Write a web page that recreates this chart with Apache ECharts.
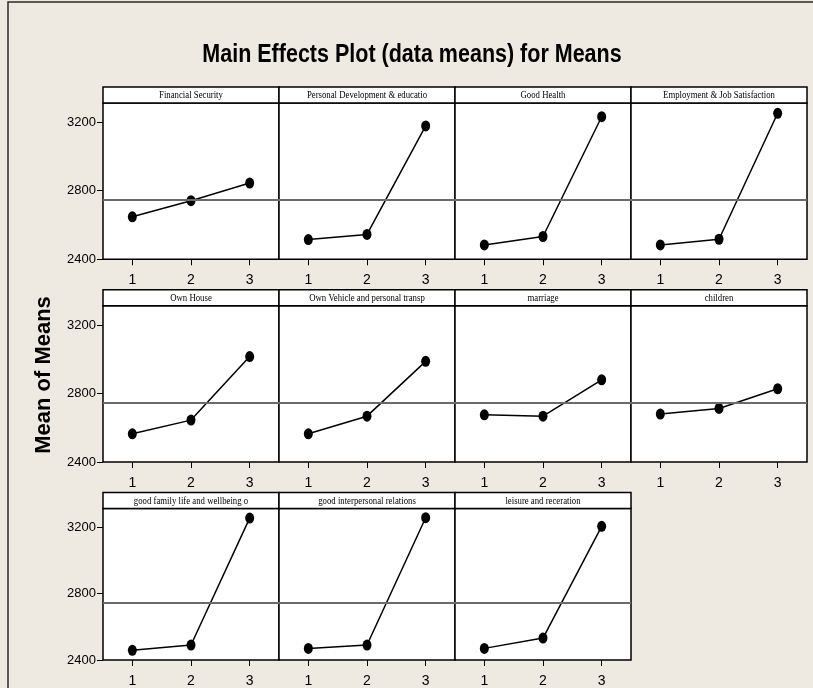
<!DOCTYPE html>
<html>
<head>
<meta charset="utf-8">
<script src="https://cdn.jsdelivr.net/npm/echarts@6/dist/echarts.min.js"></script>
<style>
  html, body { margin: 0; padding: 0; background: #EEEAE1; }
  #chart { width: 813px; height: 688px; }
</style>
</head>
<body>
<div id="chart"></div>
<script>
// ---- data ----
const levels = ['1', '2', '3'];
const yTicks = [2400, 2800, 3200];
const grandMean = 2745;

const factorNames = [
  'Financial Security', 'Personal Development & educatio', 'Good Health', 'Employment & Job Satisfaction',
  'Own House', 'Own Vehicle and personal transp', 'marriage', 'children',
  'good family life and wellbeing o', 'good interpersonal relations', 'leisure and receration'
];

const financialSecurity = [2648, 2742, 2845];
const personalDevelopment = [2515, 2545, 3178];
const goodHealth = [2484, 2533, 3232];
const employmentJob = [2484, 2517, 3252];
const ownHouse = [2565, 2645, 3016];
const ownVehicle = [2565, 2668, 2988];
const marriage = [2676, 2668, 2880];
const children = [2680, 2713, 2828];
const goodFamily = [2458, 2490, 3255];
const goodInterpersonal = [2470, 2490, 3257];
const leisure = [2470, 2532, 3205];

const factorMeans = [financialSecurity, personalDevelopment, goodHealth, employmentJob,
  ownHouse, ownVehicle, marriage, children, goodFamily, goodInterpersonal, leisure];

// ---- layout ----
const PLOT_LEFT = 103, COL_W = 176, TOP0 = 103, ROW_PITCH = 202.8, PLOT_H = 156.3, HEADER_H = 16;
const Y_MIN = 2400, Y_MAX = 3312;
const tickFont = '"Liberation Sans", Arial, sans-serif';

const grids = [], xAxes = [], yAxes = [], series = [], graphics = [];

// outer frame
graphics.push({ type: 'rect', shape: { x: 8, y: 2, width: 900, height: 800 },
  style: { fill: 'none', stroke: '#2a2a2a', lineWidth: 1.5 }, z: 0 });

factorMeans.forEach((vals, i) => {
  const r = Math.floor(i / 4), c = i % 4;
  const left = PLOT_LEFT + c * COL_W;
  const top = TOP0 + r * ROW_PITCH;
  grids.push({ left: left, top: top, width: COL_W, height: PLOT_H, show: true,
    backgroundColor: '#ffffff', borderColor: '#000', borderWidth: 1.5, containLabel: false });
  xAxes.push({ gridIndex: i, type: 'category', data: levels, boundaryGap: true,
    axisLine: { show: false },
    axisTick: { show: true, alignWithLabel: true, length: 6, lineStyle: { color: '#000', width: 1 } },
    axisLabel: { show: true, margin: 14, color: '#000', fontSize: 14, fontFamily: tickFont },
    splitLine: { show: false } });
  const showY = c === 0;
  yAxes.push({ gridIndex: i, type: 'value', min: Y_MIN, max: Y_MAX,
    axisLine: { show: false },
    axisTick: { show: showY, length: 6, customValues: yTicks, lineStyle: { color: '#000', width: 1 } },
    axisLabel: { show: showY, customValues: yTicks, margin: 7, color: '#000', fontSize: 13,
      fontFamily: tickFont, formatter: function (v) { return String(v); } },
    splitLine: { show: false } });
  series.push({ type: 'line', xAxisIndex: i, yAxisIndex: i, data: vals,
    symbol: 'circle', symbolSize: [9, 11], showSymbol: true,
    lineStyle: { color: '#000', width: 1.5 }, itemStyle: { color: '#000' },
    markLine: { silent: true, symbol: 'none', label: { show: false },
      lineStyle: { color: '#6b6b6b', width: 2, type: 'solid' },
      data: [{ yAxis: grandMean }] },
    z: 3 });
  // header
  graphics.push({ type: 'rect', shape: { x: left, y: top - HEADER_H, width: COL_W, height: HEADER_H },
    style: { fill: '#ffffff', stroke: '#000', lineWidth: 1.5 }, z: 5 });
  graphics.push({ type: 'text', x: left + COL_W / 2, y: top - HEADER_H / 2 + 0.5, scaleX: 0.92,
    style: { text: factorNames[i], fill: '#000', font: '9.5px "Liberation Serif", serif',
      textAlign: 'center', textVerticalAlign: 'middle' }, z: 6 });
});

// title
graphics.push({ type: 'text', x: 412, y: 55, scaleX: 0.86,
  style: { text: 'Main Effects Plot (data means) for Means', fill: '#000',
    font: 'bold 25px "Liberation Sans", Arial, sans-serif',
    textAlign: 'center', textVerticalAlign: 'middle' }, z: 6 });
// y axis name
graphics.push({ type: 'text', x: 43.5, y: 375, rotation: Math.PI / 2,
  style: { text: 'Mean of Means', fill: '#000',
    font: 'bold 22px "Liberation Sans", Arial, sans-serif',
    textAlign: 'center', textVerticalAlign: 'middle' }, z: 6 });

const chart = echarts.init(document.getElementById('chart'), null, { renderer: 'canvas' });
chart.setOption({
  backgroundColor: '#EEEAE1',
  animation: false,
  grid: grids, xAxis: xAxes, yAxis: yAxes, series: series,
  graphic: graphics
});
</script>
</body>
</html>
